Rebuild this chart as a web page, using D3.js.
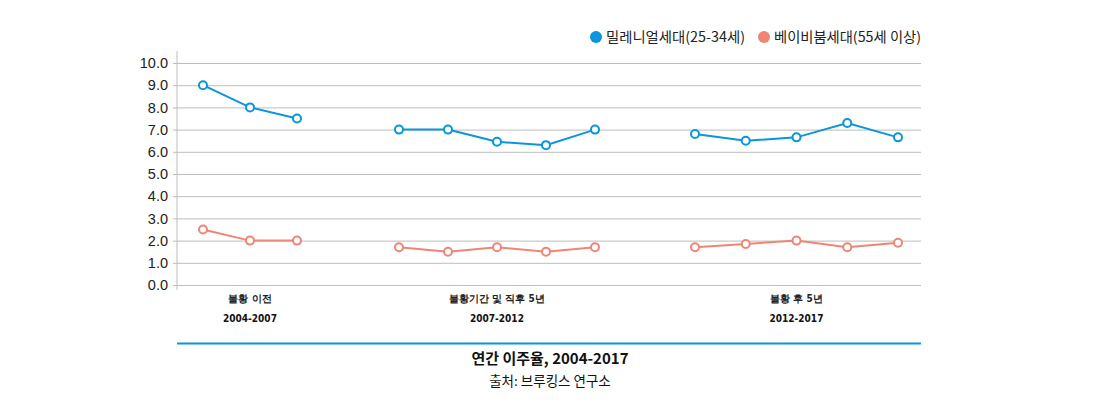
<!DOCTYPE html>
<html><head><meta charset="utf-8">
<script src="https://cdn.jsdelivr.net/npm/d3@7"></script>
<style>
body{margin:0;background:#fff;}
svg{display:block;}
</style></head>
<body><svg id="c" width="1100" height="407"></svg>
<script>
// ---- data ----
const periodOf = [0,0,0, 1,1,1,1,1, 2,2,2,2,2];   // which period each observation belongs to
const millennials = [9.0, 8.0, 7.5, 7.0, 7.0, 6.45, 6.3, 7.0, 6.8, 6.5, 6.65, 7.3, 6.65];
const boomers     = [2.5, 2.0, 2.0, 1.7, 1.5, 1.7, 1.5, 1.7, 1.7, 1.85, 2.0, 1.7, 1.9];
const periodNames = ["불황 이전", "불황기간 및 직후 5년", "불황 후 5년"];
const periodYears = ["2004-2007", "2007-2012", "2012-2017"];
const yTicks = [0,1,2,3,4,5,6,7,8,9,10];
const seriesNames = ["밀레니얼세대(25-34세)", "베이비붐세대(55세 이상)"];
const title = "연간 이주율, 2004-2017";
const source = "출처: 브루킹스 연구소";

// ---- layout ----
const colors = ["#0a95dd", "#ef8575"];
const svg = d3.select("#c");
const font = "'Noto Sans CJK KR','Noto Sans',sans-serif";
const left = 177, right = 921;
const periodRanges = [[203,297],[399,595],[695,898]];

// one point scale per period
const idxInPeriod = periodOf.map((p,i)=> periodOf.slice(0,i).filter(q=>q===p).length);
const periodCounts = periodNames.map((_,p)=> periodOf.filter(q=>q===p).length);
const xs = periodRanges.map((r,p)=> d3.scalePoint().domain(d3.range(periodCounts[p])).range(r));
const xOf = i => xs[periodOf[i]](idxInPeriod[i]);
const y = d3.scaleLinear().domain([0,10]).range([285, 63]);

// grid
const yAxis = d3.axisLeft(y).tickValues(yTicks).tickFormat(d3.format(".1f"))
  .tickSize(-(right-left)).tickPadding(9);
const ga = svg.append("g").attr("transform", `translate(${left},0)`).call(yAxis);
ga.select(".domain").remove();
ga.selectAll(".tick line").attr("stroke", "#bdbdbd").attr("stroke-width", 1).attr("x1", -4);
ga.selectAll(".tick text").attr("fill", "#222").style("font-family", "'Liberation Sans',Arial,sans-serif").style("font-size", "14.5px");
svg.append("line").attr("x1", left).attr("x2", left).attr("y1", 51).attr("y2", 290)
  .attr("stroke", "#bdbdbd").attr("stroke-width", 1);

// series
[millennials, boomers].forEach((vals, si) => {
  const pts = vals.map((v,i)=>({i, p: periodOf[i], v}));
  const line = d3.line().x(d=>xOf(d.i)).y(d=>y(d.v));
  periodNames.forEach((_,p) => {
    svg.append("path").attr("d", line(pts.filter(d=>d.p===p))).attr("fill","none")
      .attr("stroke", colors[si]).attr("stroke-width", 2);
  });
  svg.selectAll(null).data(pts).enter().append("circle")
    .attr("cx", d=>xOf(d.i)).attr("cy", d=>y(d.v)).attr("r", 4)
    .attr("fill", "#fff").attr("stroke", colors[si]).attr("stroke-width", 2);
});

// period labels
periodNames.forEach((n,p) => {
  const cx = (periodRanges[p][0] + periodRanges[p][1]) / 2;
  svg.append("text").attr("x", cx).attr("y", 302).attr("text-anchor","middle")
    .style("font-family","'DejaVu Sans Condensed','DejaVu Sans',sans-serif").style("font-weight","bold")
    .style("font-size","10px").attr("fill","#222").text(n);
  svg.append("text").attr("x", cx).attr("y", 322).attr("text-anchor","middle")
    .style("font-family","'DejaVu Sans Condensed','DejaVu Sans',sans-serif").style("font-weight","bold")
    .style("font-size","10px").attr("fill","#111").text(periodYears[p]);
});

// legend
const leg = [{x:596, t:seriesNames[0], c:colors[0], w:139}, {x:764, t:seriesNames[1], c:colors[1], w:147}];
leg.forEach(l => {
  svg.append("circle").attr("cx", l.x).attr("cy", 37).attr("r", 6).attr("fill", l.c);
  svg.append("text").attr("x", l.x+10).attr("y", 42).style("font-family", font)
    .style("font-size","14px").attr("fill","#222")
    .attr("textLength", l.w).attr("lengthAdjust","spacingAndGlyphs").text(l.t);
});

// bottom rule and titles
svg.append("line").attr("x1", left).attr("x2", right).attr("y1", 343.5).attr("y2", 343.5)
  .attr("stroke", colors[0]).attr("stroke-width", 2);
svg.append("text").attr("x", 550).attr("y", 364).attr("text-anchor","middle")
  .style("font-family", font).style("font-weight","bold").style("font-size","15px")
  .attr("fill","#111").text(title);
svg.append("text").attr("x", 550).attr("y", 386).attr("text-anchor","middle")
  .style("font-family", font).style("font-size","13.5px").attr("fill","#111").text(source);
</script></body></html>
